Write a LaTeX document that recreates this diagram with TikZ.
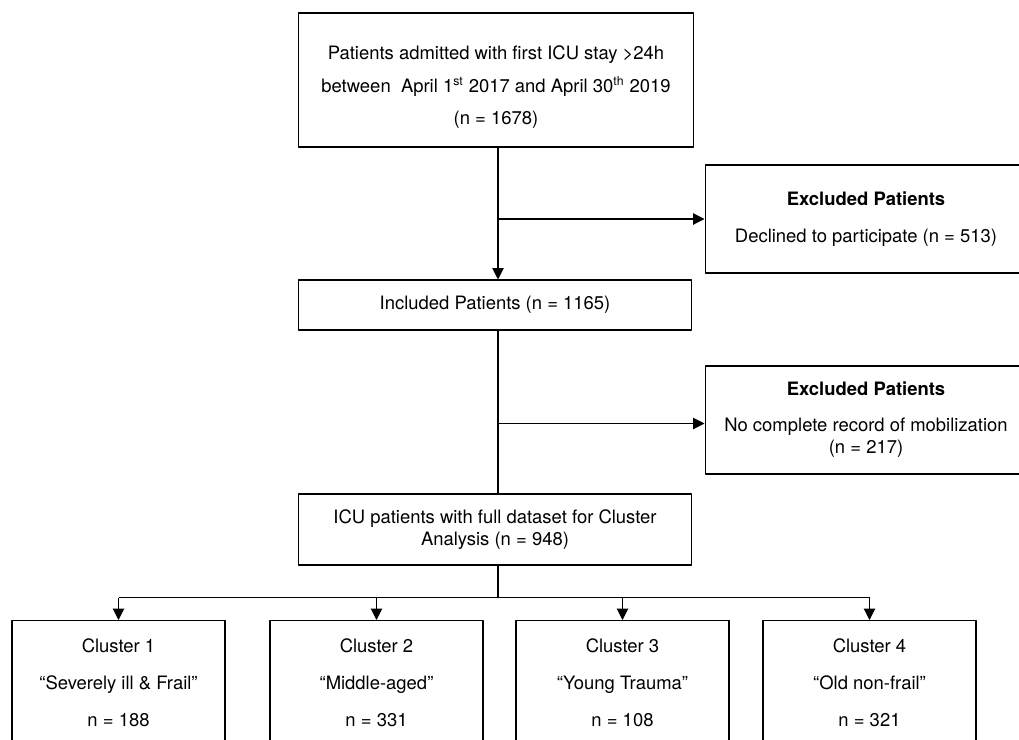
\documentclass[tikz,border=0pt]{standalone}
\usepackage{fontspec}
\setmainfont{TeX Gyre Heros}
\usetikzlibrary{arrows.meta}
\tikzset{
	box/.style={draw, semithick, inner sep=0pt, align=center},
	flow/.style={semithick, -{Triangle[length=6.5pt,width=6.5pt]}},
}
\newcommand{\sups}[1]{\textsuperscript{\fontsize{7}{8}\selectfont #1}}
\begin{document}
\begin{tikzpicture}[x=0.02cm, y=-0.02cm, font=\fontsize{10.5}{12.6}\selectfont, line join=round]
	\useasboundingbox (0,0) rectangle (1019,740);
	\clip (0,0) rectangle (1019,740);
	\coordinate (spine) at (498,0);
	% main column
	\node[box, minimum width=7.92cm, minimum height=2.68cm] (start) at (496,80) {\rule{0pt}{16pt}Patients admitted with first ICU stay >24h\\[6pt]between\ \ April 1\sups{st} 2017 and April 30\sups{th} 2019\\[6pt](n = 1678)};
	\node[box, minimum width=7.88cm, minimum height=1cm] (incl) at (495,305) {Included Patients (n = 1165)};
	\node[box, minimum width=7.88cm, minimum height=1.42cm] (icu) at (495,529.5) {ICU patients with full dataset for Cluster\\Analysis (n = 948)};
	% exclusions
	\node[box, minimum width=6.44cm, minimum height=2.16cm] (excl1) at (866,219) {\textbf{Excluded Patients}\\[8.4pt]Declined to participate (n = 513)};
	\node[box, minimum width=6.44cm, minimum height=2.16cm] (excl2) at (866,420) {\textbf{Excluded Patients}\\[7.8pt]No complete record of mobilization\\(n = 217)};
	% clusters
	\node[box, anchor=north, minimum width=4.26cm, minimum height=2.5cm] (c1) at (118.5,620) {Cluster 1\\[8.4pt]“Severely ill \& Frail”\\[8.4pt]n = 188};
	\node[box, anchor=north, minimum width=4.26cm, minimum height=2.5cm] (c2) at (376.5,620) {Cluster 2\\[8.4pt]“Middle-aged”\\[8.4pt]n = 331};
	\node[box, anchor=north, minimum width=4.26cm, minimum height=2.5cm] (c3) at (622.5,620) {Cluster 3\\[8.4pt]“Young Trauma”\\[8.4pt]n = 108};
	\node[box, anchor=north, minimum width=4.26cm, minimum height=2.5cm] (c4) at (869.5,620) {Cluster 4\\[8.4pt]“Old non-frail”\\[8.4pt]n = 321};
	% connectors
	\draw[flow] (start.south -| spine)--(incl.north -| spine);
	\draw[flow] (excl1.west -| spine)--(excl1.west);
	\draw[semithick] (incl.south -| spine)--(icu.north -| spine);
	\draw[flow] ([yshift=-2pt]excl2.west -| spine)--([yshift=-2pt]excl2.west);
	\draw[semithick] (icu.south -| spine)--++(0,32) coordinate (bus);
	\draw[semithick] (c1.north |- bus)--(c4.north |- bus);
	\foreach \c in {c1,c2,c3,c4}
		\draw[flow] (\c.north |- bus)--(\c.north);
\end{tikzpicture}
\end{document}
